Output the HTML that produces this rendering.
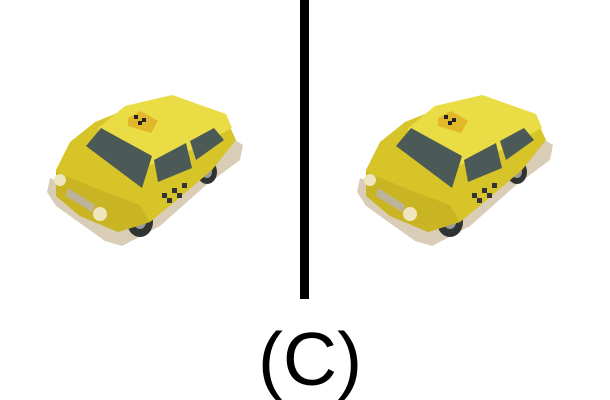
<!DOCTYPE html>
<html><head><meta charset="utf-8"><style>
html,body{margin:0;padding:0;background:#fff;width:610px;height:400px;overflow:hidden}
</style></head><body>
<svg width="610" height="400" viewBox="0 0 610 400">
<defs>
<g id="taxi">
<polygon points="50,178 95,196 150,206 235,140 243,145 240,160 205,186 160,226 122,246 105,241 56,206 47,192" fill="#d9cdb8"/>
<ellipse cx="140" cy="222" rx="13" ry="15" fill="#2f3333"/>
<ellipse cx="140" cy="222" rx="6" ry="7" fill="#9a9a9a"/>
<ellipse cx="207" cy="172" rx="10" ry="12" fill="#2f3333"/>
<ellipse cx="207" cy="172" rx="5" ry="6" fill="#9a9a9a"/>
<polygon points="56,170 70,142 95,122 135,106 175,96 224,114 236,140 212,170 172,204 150,222 118,232 80,216 56,196" fill="#d7c428"/>
<polygon points="56,172 100,190 140,205 150,222 118,232 80,216 56,196" fill="#c9b423"/>
<polygon points="98,128 125,106 172,95 226,114 232,128 192,150 148,166 100,150" fill="#e9dc45"/>
<polygon points="86,146 101,128 152,156 142,188" fill="#4c5a57"/>
<polygon points="154,160 186,143 192,168 158,182" fill="#4c5a57"/>
<polygon points="190,141 214,128 224,140 196,160" fill="#4c5a57"/>
<polygon points="128,118 141,111 158,121 151,133 128,126" fill="#e2b82a"/>
<rect x="134" y="115" width="4" height="4" fill="#222"/><rect x="142" y="118" width="4" height="4" fill="#222"/><rect x="138" y="121" width="4" height="4" fill="#222"/>
<rect x="162" y="193" width="5" height="5" fill="#333"/><rect x="172" y="188" width="5" height="5" fill="#333"/><rect x="167" y="198" width="5" height="5" fill="#333"/><rect x="182" y="183" width="5" height="5" fill="#333"/><rect x="177" y="193" width="5" height="5" fill="#333"/>
<circle cx="60" cy="180" r="6" fill="#efe6c0"/>
<circle cx="100" cy="214" r="7" fill="#efe6c0"/>
<polygon points="68,188 95,205 92,212 66,196" fill="#bdb39b"/>
</g>
</defs>
<use href="#taxi"/>
<use href="#taxi" transform="translate(310,0)"/>
<rect x="300" y="0" width="9" height="299" fill="#000"/>
<text x="310" y="385" text-anchor="middle" font-family="Liberation Sans, sans-serif" font-size="75" fill="#000">(C)</text>
</svg>
</body></html>
